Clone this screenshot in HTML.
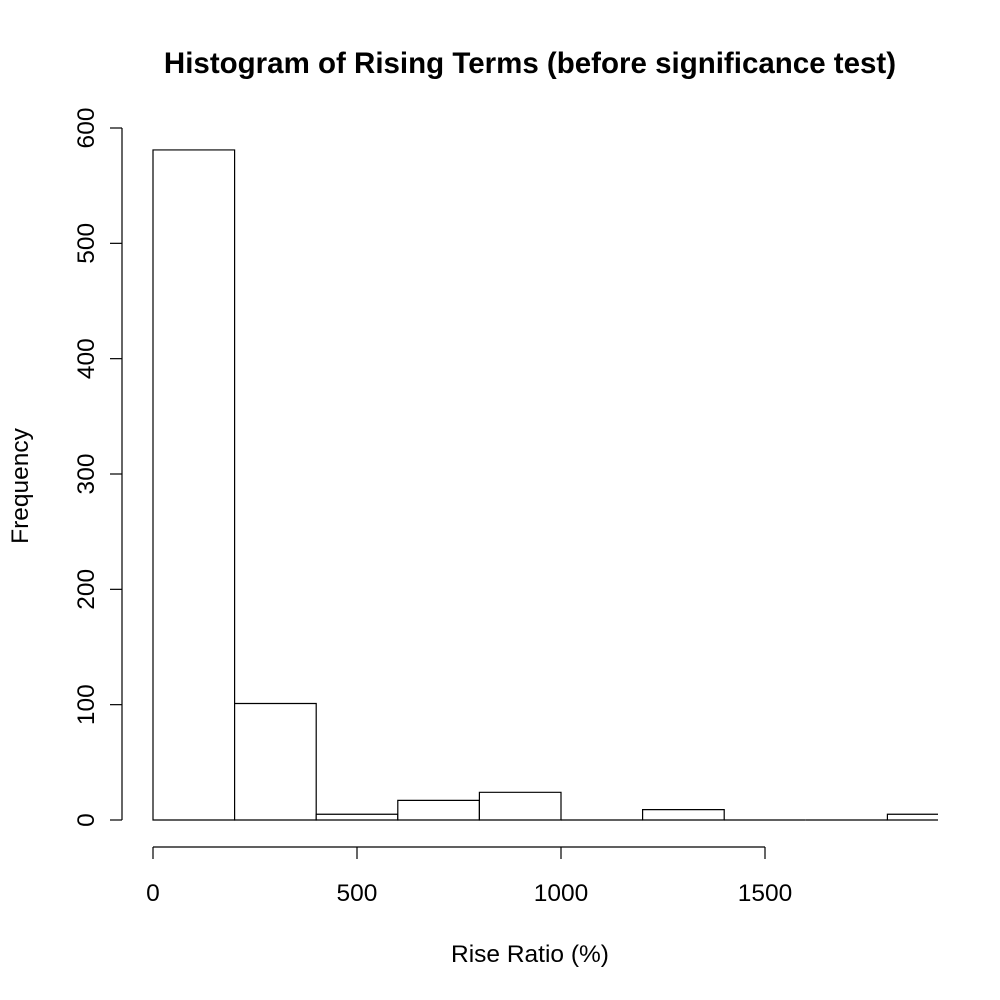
<!DOCTYPE html>
<html><head><meta charset="utf-8"><style>body{margin:0;background:#fff}svg{display:block;font-family:"Liberation Sans",sans-serif}</style></head>
<body>
<svg width="1000" height="1000">
<text x="530" y="73" text-anchor="middle" font-size="29.5" font-weight="bold">Histogram of Rising Terms (before significance test)</text>
<defs><clipPath id="pc"><rect x="0" y="0" width="938" height="1000"/></clipPath></defs>
<g id="bars" clip-path="url(#pc)"></g>
<g id="axes"></g>
<text x="530" y="962" text-anchor="middle" font-size="24.5">Rise Ratio (%)</text>
<text transform="translate(28,486) rotate(-90)" text-anchor="middle" font-size="24.5">Frequency</text>
</svg>
<script>
const binStarts=[0,200,400,600,800,1000,1200,1400,1600,1800];
const counts=[581,101,5,17,24,0,9,0,0,5];
const binWidth=200;
const xTicks=[0,500,1000,1500];
const yTicks=[0,100,200,300,400,500,600];
const NS="http://www.w3.org/2000/svg";
const X=v=>153+v*0.408;
const Y=v=>820-v*(692/600);
const bars=document.getElementById('bars'),axes=document.getElementById('axes');
function mk(tag,attrs,parent){const e=document.createElementNS(NS,tag);for(const k in attrs)e.setAttribute(k,attrs[k]);parent.appendChild(e);return e;}
binStarts.forEach((b,i)=>{
 const x0=X(b),x1=X(b+binWidth),y0=Y(0),y1=Y(counts[i]);
 const r=mk('path',{d:`M${x0},${y0}L${x0},${y1}L${x1},${y1}L${x1},${y0}Z`,fill:'#fff',stroke:'#000','stroke-width':1.2},bars);
 
 
});
const xa=mk('line',{x1:X(xTicks[0]),x2:X(xTicks[xTicks.length-1]),y1:847,y2:847,stroke:'#000','stroke-width':1.2},axes);


xTicks.forEach(t=>{
 mk('line',{x1:X(t),x2:X(t),y1:847,y2:859,stroke:'#000','stroke-width':1.2},axes);
 const tx=mk('text',{x:X(t),y:901,'text-anchor':'middle','font-size':24.5},axes);tx.textContent=t;
 
 
});
const ya=mk('line',{x1:122,x2:122,y1:Y(yTicks[0]),y2:Y(yTicks[yTicks.length-1]),stroke:'#000','stroke-width':1.2},axes);


yTicks.forEach(t=>{
 mk('line',{x1:110,x2:122,y1:Y(t),y2:Y(t),stroke:'#000','stroke-width':1.2},axes);
 const tx=mk('text',{transform:`translate(94,${Y(t)}) rotate(-90)`,'text-anchor':'middle','font-size':24.5},axes);tx.textContent=t;
 
 
});
</script>
</body></html>
